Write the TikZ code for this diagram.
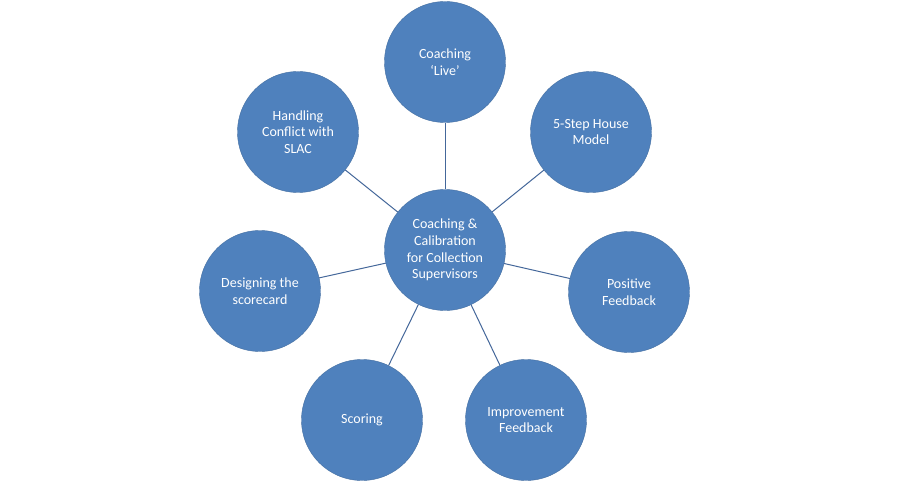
\documentclass[tikz,border=0pt]{standalone}
\usepackage{fontspec}
\setmainfont{Carlito}
\definecolor{cfill}{HTML}{4F81BD}
\definecolor{cline}{HTML}{44679A}
\begin{document}
\begin{tikzpicture}[x=1pt,y=-1pt,
  bub/.style={circle,fill=cfill,draw=cfill!85!black,line width=0.4pt,minimum size=121pt,inner sep=0pt,text=white,align=center,font=\fontsize{14}{16.7}\selectfont},
  link/.style={draw=cline,line width=1pt}]
\useasboundingbox (0,0) rectangle (900,500);
\fill[white] (0,0) rectangle (900,500);
\node[bub] (c) at (445,250) {Coaching \&\\Calibration\\for Collection\\Supervisors};
\node[bub] (live) at (445,62) {Coaching\\‘Live’};
\node[bub] (house) at (591,132) {5-Step House\\Model};
\node[bub] (pos) at (629,292) {Positive\\Feedback};
\node[bub] (imp) at (526,420) {Improvement\\Feedback};
\node[bub] (sc) at (362,420) {Scoring};
\node[bub] (des) at (260,291) {Designing the\\scorecard};
\node[bub] (slac) at (298,132) {Handling\\Conflict with\\SLAC};
\foreach \n in {live,house,pos,imp,sc,des,slac}
  \draw[link] (c) -- (\n);
\end{tikzpicture}
\end{document}
